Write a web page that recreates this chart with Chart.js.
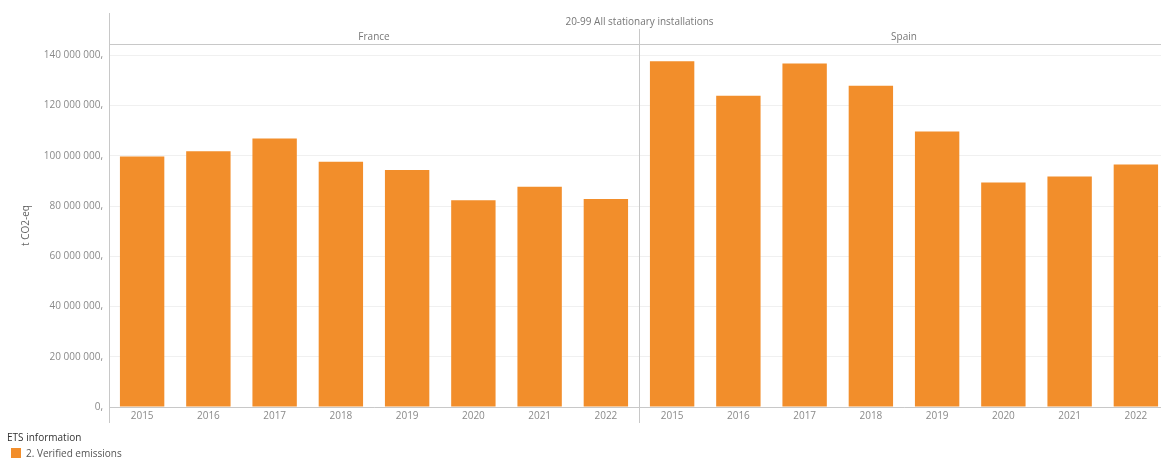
<!DOCTYPE html>
<html>
<head>
<meta charset="utf-8">
<script src="https://cdn.jsdelivr.net/npm/chart.js@4/dist/chart.umd.min.js"></script>
<style>
  html, body { margin: 0; padding: 0; background: #fff; overflow: hidden; }
  #wrap { position: relative; width: 1170px; height: 458px; }
  .legend { position: absolute; left: 7px; top: 430px; font-family: "Open Sans", sans-serif; font-size: 10px; }
  .legend .title { color: #333; }
  .legend .item { color: #555; margin-top: 2px; display: flex; align-items: center; }
  .legend .sw { width: 10px; height: 10px; background: #f28e2b; margin: 0 5px 0 4px; }
</style>
</head>
<body>
<div id="wrap">
  <canvas id="myChart"></canvas>
  <div class="legend">
    <div class="title">ETS information</div>
    <div class="item"><span class="sw"></span>2. Verified emissions</div>
  </div>
</div>
<script>
// Datos (t CO2-eq, verified emissions)
const years = ['2015', '2016', '2017', '2018', '2019', '2020', '2021', '2022'];
const countries = ['France', 'Spain'];
const franceValues = [99.7e6, 101.8e6, 106.9e6, 97.6e6, 94.3e6, 82.3e6, 87.7e6, 82.8e6];
const spainValues = [137.6e6, 123.9e6, 136.7e6, 127.9e6, 109.7e6, 89.4e6, 91.8e6, 96.5e6];
const yTicks = [0, 20e6, 40e6, 60e6, 80e6, 100e6, 120e6, 140e6];
const headerTitle = '20-99 All stationary installations';

const FONT = '"Open Sans", sans-serif';

function fmt(v) {
    return String(Math.round(v)).replace(/\B(?=(\d{3})+(?!\d))/g, ' ') + ',';
}

// Cabeceras de paneles, divisor y eje vertical extendido
const panelPlugin = {
    id: 'panels',
    afterDraw(chart) {
        const ctx = chart.ctx;
        const x = chart.scales.x;
        const area = chart.chartArea;
        const n = years.length;
        ctx.save();
        ctx.strokeStyle = '#c8c8c8';
        ctx.lineWidth = 1;
        // eje Y
        ctx.beginPath();
        ctx.moveTo(Math.round(area.left) + 0.5, 13);
        ctx.lineTo(Math.round(area.left) + 0.5, 423);
        ctx.stroke();
        // línea bajo cabeceras
        ctx.beginPath();
        ctx.moveTo(area.left, Math.round(area.top) + 0.5);
        ctx.lineTo(area.right, Math.round(area.top) + 0.5);
        ctx.stroke();
        // divisor entre países
        const divX = Math.round(x.getPixelForValue(n - 0.5)) + 0.5;
        ctx.beginPath();
        ctx.moveTo(divX, 29);
        ctx.lineTo(divX, 423);
        ctx.stroke();

        ctx.font = '10px ' + FONT;
        ctx.fillStyle = '#777';
        ctx.textAlign = 'center';
        ctx.textBaseline = 'middle';
        ctx.fillText(headerTitle, divX, 22);
        countries.forEach((c, i) => {
            const cx = x.getPixelForValue(i * n + (n - 1) / 2);
            ctx.fillText(c, cx, 37);
        });
        ctx.restore();
    }
};

document.addEventListener('DOMContentLoaded', () => {
    const ctx = document.getElementById('myChart').getContext('2d');

    const labels = [];
    countries.forEach(() => years.forEach(y => labels.push(y)));
    const values = franceValues.concat(spainValues);

    new Chart(ctx, {
        type: 'bar',
        data: {
            labels: labels,
            datasets: [{
                label: '2. Verified emissions',
                data: values,
                backgroundColor: '#f28e2b',
                borderWidth: 0,
                categoryPercentage: 1,
                barPercentage: 0.67
            }]
        },
        options: {
            responsive: true,
            maintainAspectRatio: false,
            animation: false,
            layout: { padding: { left: 0, top: 44, right: 1, bottom: 33 } },
            plugins: {
                legend: { display: false },
                tooltip: { enabled: false }
            },
            scales: {
                x: {
                    grid: { display: false, drawTicks: false },
                    border: { display: true, color: '#c8c8c8' },
                    ticks: { color: '#8a8a8a', font: { family: FONT, size: 10 }, padding: 3, maxRotation: 0, autoSkip: false },
                    afterFit(scale) { scale.height = 18; }
                },
                y: {
                    min: 0,
                    max: 144.5e6,
                    grid: { color: '#f0f0f0', drawTicks: false },
                    border: { display: false },
                    afterBuildTicks(scale) { scale.ticks = yTicks.map(v => ({ value: v })); },
                    ticks: {
                        color: '#8a8a8a',
                        font: { family: FONT, size: 10 },
                        padding: 6,
                        callback: v => fmt(v)
                    },
                    title: {
                        display: true,
                        text: 't CO2-eq',
                        color: '#666',
                        font: { family: FONT, size: 10 },
                        padding: { top: 20, bottom: 0 }
                    },
                    afterFit(scale) { scale.width = 109; }
                }
            }
        },
        plugins: [panelPlugin]
    });
});
</script>
</body>
</html>
